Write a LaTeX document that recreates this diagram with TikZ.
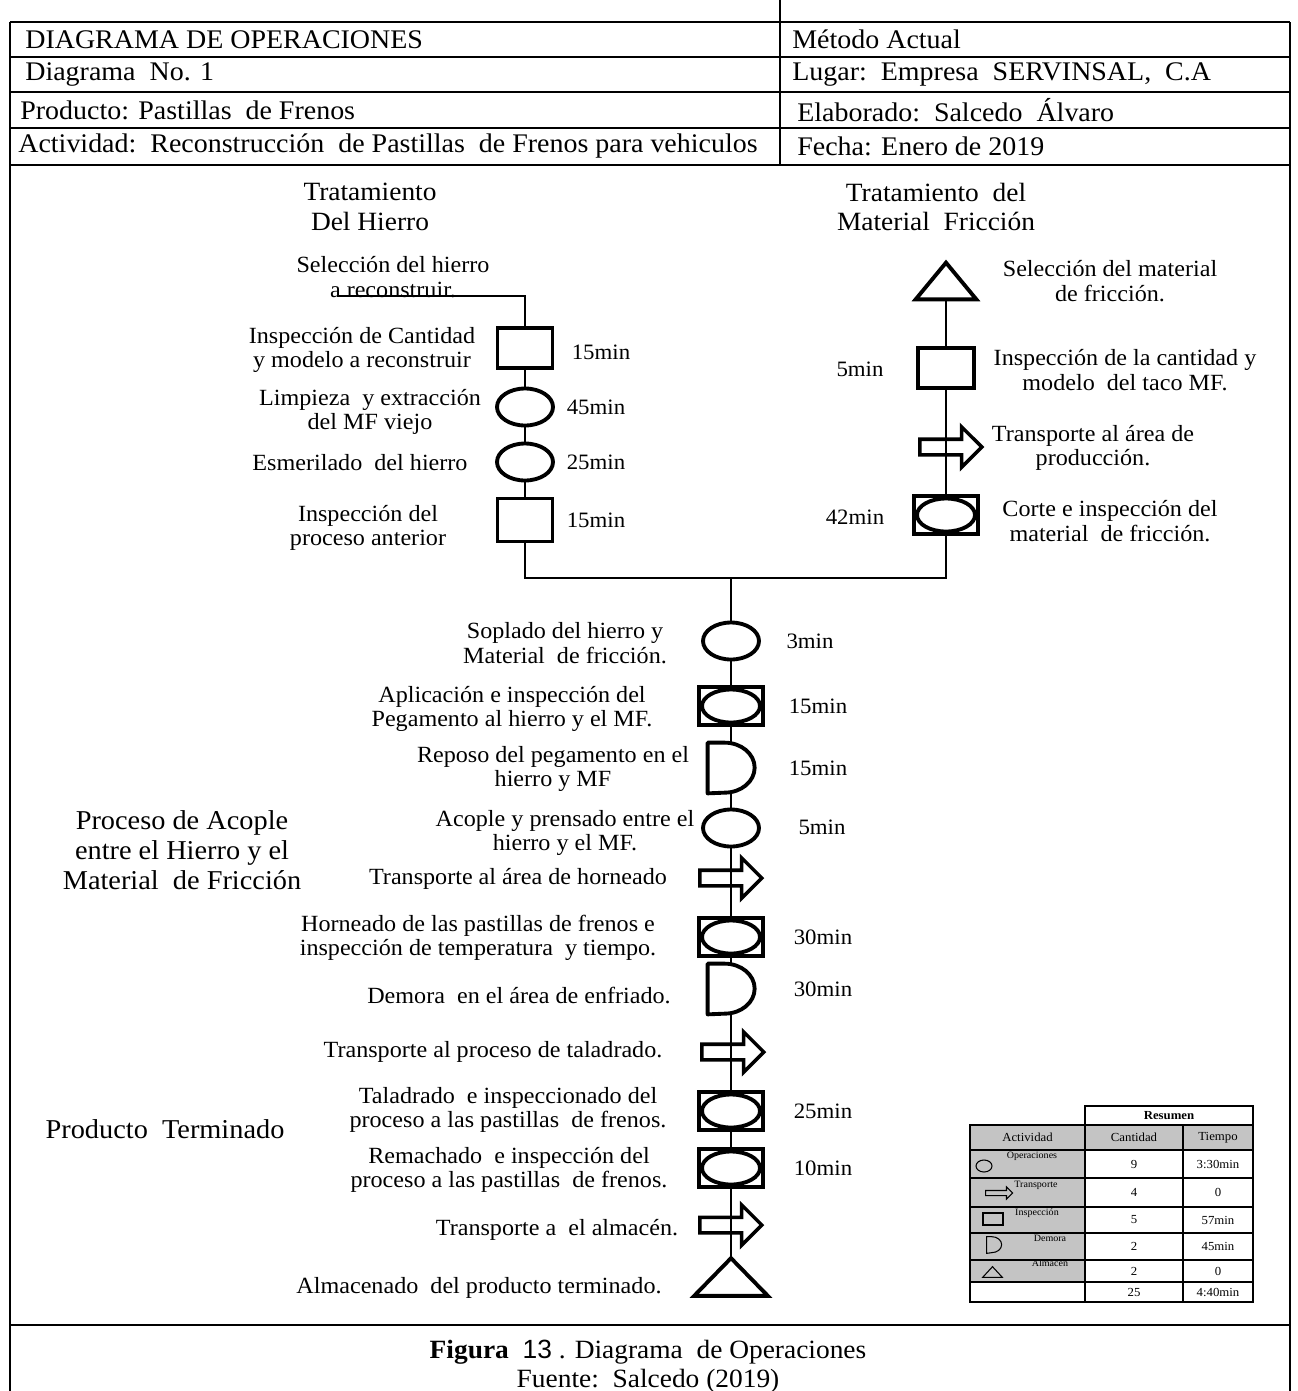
\documentclass[tikz,border=0pt]{standalone}
\usepackage{fontspec}
\setmainfont{Liberation Serif}[FakeStretch=1.04]
\newfontfamily\arialfont{Liberation Sans}
\usepackage{tikz}
\usetikzlibrary{shapes.geometric, shapes.arrows}
\definecolor{cellgray}{HTML}{C4C4C4}

\begin{document}
\begin{tikzpicture}[
  frame/.style   = {line width=1.1pt},
  conn/.style    = {line width=0.8pt},
  opsym/.style   = {ellipse, draw, fill=white, line width=2.2pt, minimum width=1.12cm, minimum height=0.74cm, inner sep=0pt},
  inspsym/.style = {rectangle, draw, fill=white, line width=2.2pt, minimum width=1.1cm, minimum height=0.8cm, inner sep=0pt},
  combsym/.style = {rectangle, draw, fill=white, line width=2.6pt, minimum width=1.28cm, minimum height=0.76cm, inner sep=0pt,
                    path picture={\draw[line width=2.2pt] (path picture bounding box.center) ellipse [x radius=0.58cm, y radius=0.33cm];}},
  trsym/.style   = {single arrow, draw, line width=2pt, minimum height=1.24cm, inner sep=0.12cm, single arrow head extend=0.25cm, anchor=west},
  dlsym/.style   = {rectangle, minimum width=0.92cm, minimum height=1cm, inner sep=0pt},
  almsym/.style  = {rectangle, minimum width=1.4cm, minimum height=0.74cm, inner sep=0pt},
  symline/.style = {line width=2.2pt, line join=round},
  hdr/.style     = {anchor=west, inner sep=0pt, font=\fontsize{15.3}{17}\selectfont},
  ttl/.style     = {align=center, inner sep=0pt, font=\fontsize{15}{17}\selectfont},
  lbl/.style     = {align=center, inner sep=0pt, font=\fontsize{13.2}{14}\selectfont},
  tm/.style      = {inner sep=0pt, font=\fontsize{12.5}{14}\selectfont},
  tbl/.style     = {inner sep=0pt, font=\fontsize{7}{8}\selectfont},
  tbltag/.style  = {inner sep=0pt, font=\fontsize{5.5}{6}\selectfont},
  tblline/.style = {line width=0.7pt},
  mini/.style    = {draw, line width=0.6pt, inner sep=0pt},
]
\useasboundingbox (0,0) rectangle (25.94,-27.82);

% encabezado
\draw[frame] (15.6,0) -- (15.6,-3.3);
\draw[line width=1.6pt] (0.2,-0.44) -- (25.8,-0.44);
\draw[frame] (0.2,-27.82) -- (0.2,-0.44);
\draw[frame] (25.8,-0.44) -- (25.8,-27.82);
\draw[frame] (0.2,-1.14) -- (25.8,-1.14);
\draw[frame] (0.2,-1.84) -- (25.8,-1.84);
\draw[frame] (0.2,-2.56) -- (25.8,-2.56);
\draw[frame] (0.2,-3.3) -- (25.8,-3.3);
\draw[frame] (0.2,-26.5) -- (25.8,-26.5);

\node[hdr] (h1) at (0.5,-0.79) {DIAGRAMA DE OPERACIONES};
\node[hdr] (h2) at (0.5,-1.49) {Diagrama\ \ No. 1};
\node[hdr] (h3) at (0.4,-2.2) {Producto: Pastillas\ \ de Frenos};
\node[hdr] (h4) at (0.36,-2.93) {Actividad:\ \ Reconstrucción\ \ de Pastillas\ \ de Frenos para vehiculos};
\node[hdr] (h5) at (15.84,-0.79) {Método Actual};
\node[hdr] (h6) at (15.84,-1.49) {Lugar:\ \ Empresa\ \ SERVINSAL,\ \ C.A};
\node[hdr] (h7) at (15.94,-2.2) {Elaborado:\ \ Salcedo\ \ Álvaro};
\node[hdr] (h8) at (15.94,-2.93) {Fecha: Enero de 2019};

% titulos
\node[ttl] (thierro) at (7.4,-4.14) {Tratamiento\\ Del Hierro};
\node[ttl] (tfric) at (18.72,-4.14) {Tratamiento\ \ del\\Material\ \ Fricción};
\node[ttl, font=\fontsize{15.5}{17.2}\selectfont] (tacople) at (3.64,-17.0) {Proceso de Acople\\entre el Hierro y el\\Material\ \ de Fricción};
\node[ttl, font=\fontsize{15.5}{17.2}\selectfont] (tterm) at (3.3,-22.58) {Producto\ \ Terminado};

% tratamiento del hierro
\coordinate (hstart) at (6.74,-5.92);
\node[lbl] (lsel) at (7.86,-5.54) {Selección del hierro\\a reconstruir.};
\node[inspsym] (insp1) at (10.5,-6.96) {};
\node[lbl] (linsp1) at (7.24,-7.0) {Inspección de Cantidad\\y modelo a reconstruir};
\node[tm] (t1) at (12.02,-7.04) {15min};
\node[opsym] (op1) at (10.5,-8.14) {};
\node[lbl] (lop1) at (7.4,-8.24) {Limpieza\ \ y extracción\\del MF viejo};
\node[tm] (t2) at (11.92,-8.14) {45min};
\node[opsym] (op2) at (10.5,-9.24) {};
\node[lbl] (lop2) at (7.2,-9.26) {Esmerilado\ \ del hierro};
\node[tm] (t3) at (11.92,-9.24) {25min};
\node[inspsym, minimum height=0.86cm] (insp2) at (10.5,-10.4) {};
\node[lbl] (linsp2) at (7.36,-10.56) {Inspección del\\proceso anterior};
\node[tm] (t4) at (11.92,-10.4) {15min};

% tratamiento del material friccion
\node[almsym, minimum width=1.2cm, minimum height=0.72cm] (tri1) at (18.92,-5.62) {};
\node[lbl] (ltri1) at (22.2,-5.62) {Selección del material\\de fricción.};
\node[inspsym, minimum width=1.12cm] (insp3) at (18.92,-7.36) {};
\node[lbl] (linsp3) at (22.5,-7.4) {Inspección de la cantidad y\\modelo\ \ del taco MF.};
\node[tm] (t5) at (17.2,-7.38) {5min};
\node[trsym] (tr1) at (18.36,-8.94) {};
\node[lbl] (ltr1) at (21.86,-8.96) {Transporte al área de\\producción.};
\node[combsym] (comb1) at (18.92,-10.3) {};
\node[lbl] (lcomb1) at (22.2,-10.42) {Corte e inspección del\\material\ \ de fricción.};
\node[tm] (t6) at (17.1,-10.34) {42min};

% acople
\coordinate (join) at (14.62,-11.56);
\node[opsym] (op3) at (14.62,-12.82) {};
\node[lbl] (lop3) at (11.3,-12.86) {Soplado del hierro y\\Material\ \ de fricción.};
\node[tm] (t7) at (16.2,-12.82) {3min};
\node[combsym] (comb2) at (14.62,-14.12) {};
\node[lbl] (lcomb2) at (10.24,-14.18) {Aplicación e inspección del\\Pegamento al hierro y el MF.};
\node[tm] (t8) at (16.36,-14.12) {15min};
\node[dlsym] (dl1) at (14.62,-15.36) {};
\node[lbl] (ldl1) at (11.06,-15.38) {Reposo del pegamento en el\\hierro y MF};
\node[tm] (t9) at (16.36,-15.36) {15min};
\node[opsym] (op4) at (14.62,-16.56) {};
\node[lbl] (lop4) at (11.3,-16.66) {Acople y prensado entre el\\hierro y el MF.};
\node[tm] (t10) at (16.44,-16.54) {5min};
\node[trsym] (tr2) at (13.96,-17.56) {};
\node[lbl] (ltr2) at (10.36,-17.58) {Transporte al área de horneado};

% producto terminado
\node[combsym] (comb3) at (14.62,-18.74) {};
\node[lbl] (lcomb3) at (9.56,-18.76) {Horneado de las pastillas de frenos e\\inspección de temperatura\ \ y tiempo.};
\node[tm] (t11) at (16.46,-18.74) {30min};
\node[dlsym] (dl2) at (14.62,-19.78) {};
\node[lbl] (ldl2) at (10.38,-19.9) {Demora\ \ en el área de enfriado.};
\node[tm] (t12) at (16.46,-19.78) {30min};
\node[trsym] (tr3) at (14.0,-21.04) {};
\node[lbl] (ltr3) at (9.86,-21.04) {Transporte al proceso de taladrado.};
\node[combsym] (comb4) at (14.62,-22.22) {};
\node[lbl] (lcomb4) at (10.16,-22.2) {Taladrado\ \ e inspeccionado del\\proceso a las pastillas\ \ de frenos.};
\node[tm] (t13) at (16.46,-22.22) {25min};
\node[combsym] (comb5) at (14.62,-23.36) {};
\node[lbl] (lcomb5) at (10.18,-23.4) {Remachado\ \ e inspección del\\proceso a las pastillas\ \ de frenos.};
\node[tm] (t14) at (16.46,-23.36) {10min};
\node[trsym] (tr4) at (13.96,-24.5) {};
\node[lbl] (ltr4) at (11.14,-24.6) {Transporte a\ \ el almacén.};
\node[almsym, minimum width=1.46cm] (tri2) at (14.62,-25.54) {};
\node[lbl] (ltri2) at (9.58,-25.76) {Almacenado\ \ del producto terminado.};

% simbolos dibujados a mano
\foreach \d in {dl1, dl2}
  \draw[symline] (\d.north west) -- ++(0.34,0) arc[start angle=90, end angle=-90, x radius=0.6cm, y radius=0.5cm] -- (\d.south west) -- cycle;
\foreach \t in {tri1, tri2}
  \draw[symline, line join=miter] (\t.south west) -- (\t.north) -- (\t.south east) -- cycle;

% conexiones
\draw[conn] (hstart) -| (insp1);
\draw[conn] (insp1) -- (op1);
\draw[conn] (op1) -- (op2);
\draw[conn] (op2) -- (insp2);
\draw[conn] (insp2) |- (join) -| (comb1);
\draw[conn] (tri1.south) -- (insp3);
\draw[conn] (insp3) -- (comb1);
\draw[conn] (join) -- (op3);
\draw[conn] (op3) -- (comb2);
\draw[conn] (comb2) -- (dl1.north);
\draw[conn] (dl1.south) -- (op4);
\draw[conn] (op4) -- (comb3);
\draw[conn] (comb3) -- (dl2.north);
\draw[conn] (dl2.south) -- (comb4);
\draw[conn] (comb4) -- (comb5);
\draw[conn] (comb5) -- (tri2.north);

% resumen
\fill[cellgray] (19.4,-22.5) rectangle (25.06,-23.0);
\fill[cellgray] (19.4,-23.0) rectangle (21.7,-25.64);
\draw[tblline] (21.7,-22.12) rectangle (25.06,-26.04);
\draw[tblline] (19.4,-22.5) rectangle (25.06,-26.04);
\draw[tblline] (23.66,-22.5) -- (23.66,-26.04);
\draw[tblline] (21.7,-22.5) -- (21.7,-26.04);
\foreach \y in {-23.0,-23.56,-24.14,-24.66,-25.2,-25.64}
  \draw[tblline] (19.4,\y) -- (25.06,\y);
\node[tbl, font=\bfseries\fontsize{7}{8}\selectfont] (resumen) at (23.38,-22.31) {Resumen};
\node[tbl] (cact) at (20.55,-22.75) {Actividad};
\node[tbl] (ccant) at (22.68,-22.75) {Cantidad};
\node[tbl] (ctiem) at (24.36,-22.75) {Tiempo};
\foreach \cant/\tiem/\y [count=\i] in {9/3:30min/-23.28, 4/0/-23.85, 5/57min/-24.4, 2/45min/-24.93, 2/0/-25.42, 25/4:40min/-25.84} {
  \node[tbl] (cant\i) at (22.68,\y) {\cant};
  \node[tbl] (tiem\i) at (24.36,\y) {\tiem};
}
\node[mini, ellipse, minimum width=0.32cm, minimum height=0.24cm] (kop) at (19.68,-23.32) {};
\node[tbltag] (tagop) at (20.64,-23.13) {Operaciones};
\node[mini, single arrow, minimum height=0.54cm, inner sep=0.04cm, single arrow head extend=0.07cm, anchor=west] (ktr) at (19.7,-23.86) {};
\node[tbltag] (tagtr) at (20.72,-23.7) {Transporte};
\node[mini, rectangle, minimum width=0.4cm, minimum height=0.24cm] (kinsp) at (19.86,-24.38) {};
\node[tbltag] (taginsp) at (20.74,-24.26) {Inspección};
\node[rectangle, inner sep=0pt, minimum width=0.16cm, minimum height=0.32cm] (kdl) at (19.82,-24.9) {};
\draw[line width=0.6pt] (kdl.north west) -- ++(0.1,0) arc[start angle=90, end angle=-90, x radius=0.2cm, y radius=0.16cm] -- (kdl.south west) -- cycle;
\node[tbltag] (tagdl) at (21.0,-24.76) {Demora};
\node[rectangle, inner sep=0pt, minimum width=0.38cm, minimum height=0.2cm] (kalm) at (19.85,-25.44) {};
\draw[line width=0.6pt] (kalm.south west) -- (kalm.north) -- (kalm.south east) -- cycle;
\node[tbltag] (tagalm) at (21.0,-25.26) {Almacén};

% pie
\node[ttl] (cap1) at (12.96,-27.04) {\textbf{Figura} \ {\arialfont 13} . Diagrama\ \ de Operaciones};
\node[ttl] (cap2) at (12.96,-27.62) {Fuente:\ \ Salcedo\ (2019)};
\end{tikzpicture}
\end{document}
